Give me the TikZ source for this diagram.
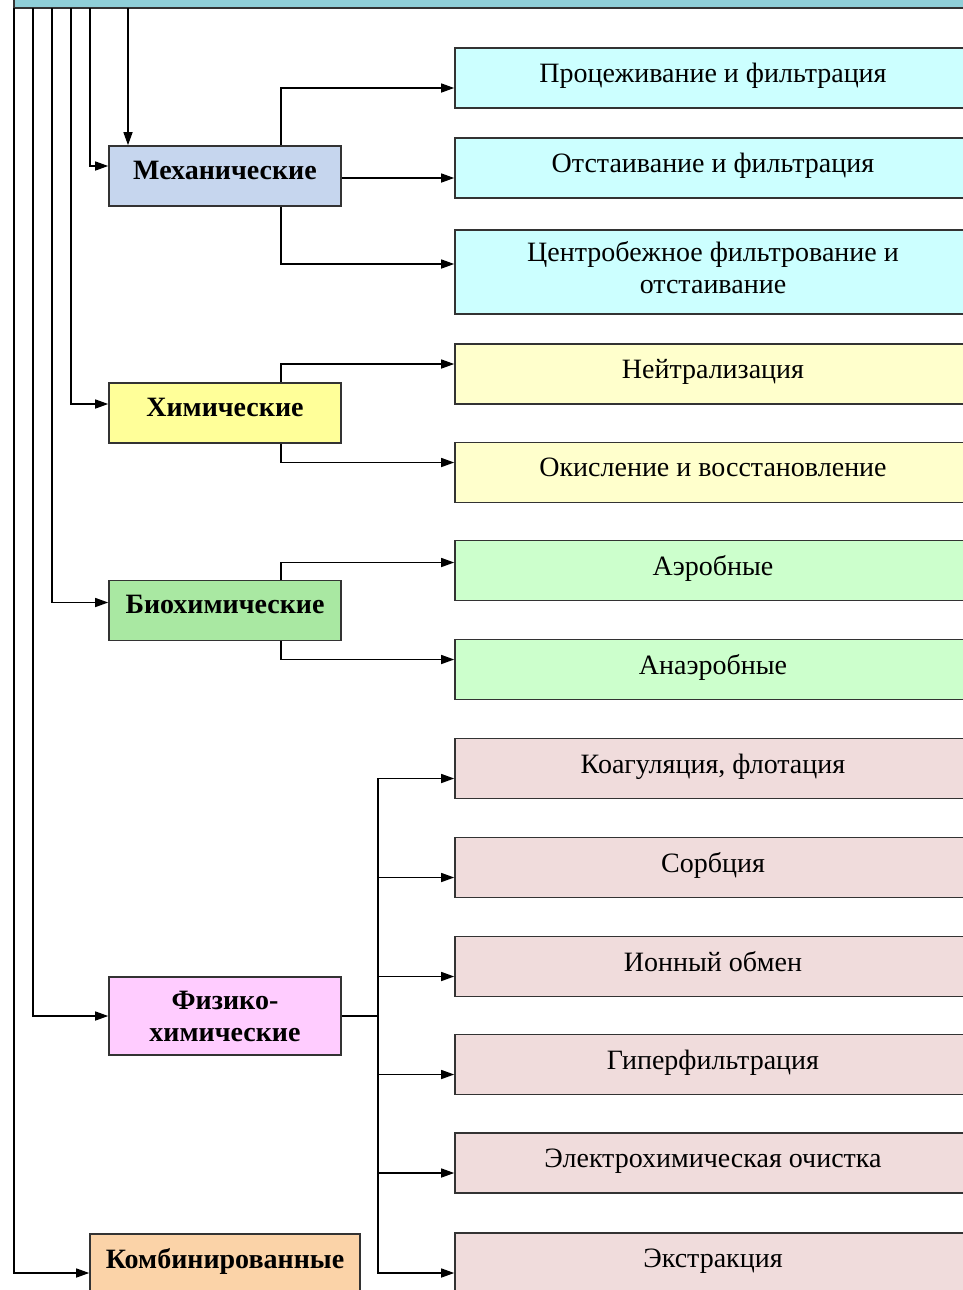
\documentclass[tikz,border=0pt]{standalone}
\usepackage{fontspec}
\setmainfont{Liberation Serif}
\usetikzlibrary{arrows.meta}

\definecolor{topcol}{HTML}{8FCFD8}
\definecolor{mechcol}{HTML}{C6D6EE}
\definecolor{mechitem}{HTML}{CCFFFF}
\definecolor{chemcol}{HTML}{FFFF99}
\definecolor{chemitem}{HTML}{FFFFCC}
\definecolor{biocol}{HTML}{A9E8A2}
\definecolor{bioitem}{HTML}{CCFFCC}
\definecolor{physcol}{HTML}{FFCCFF}
\definecolor{physitem}{HTML}{F0DCDC}
\definecolor{combcol}{HTML}{FBD3A8}

\tikzset{
  grp/.style = {draw=black!80, line width=0.8pt, minimum width=116pt,
    minimum height=30pt, align=center, inner sep=2pt, text depth=6pt,
    font=\bfseries\fontsize{14}{16}\selectfont},
  item/.style = {draw=black!80, line width=0.8pt, minimum width=258pt,
    minimum height=30pt, align=center, text depth=5pt,
    font=\fontsize{14}{16}\selectfont},
  arr/.style = {-{Triangle[length=6.5pt,width=4.5pt]}, line width=0.7pt}
}

\begin{document}
\begin{tikzpicture}[x=0.5pt, y=-0.5pt]
	
	\useasboundingbox (0,0) rectangle (963,1290);
	\clip (0,0) rectangle (963,1290);
	
	\node[draw=black!80, line width=0.8pt, fill=topcol, minimum width=493pt,
	  minimum height=30pt] (top) at (507,-22) {};
	
	% groups
	\node[grp, fill=mechcol] (mech) at (225,176) {Механические};
	\node[grp, fill=chemcol] (chem) at (225,413) {Химические};
	\node[grp, fill=biocol] (bio) at (225,610.5) {Биохимические};
	\node[grp, fill=physcol, minimum height=39pt, text depth=0pt] (phys) at (225,1016) {Физико-\\химические};
	\node[grp, fill=combcol, minimum width=135pt] (comb) at (225,1264) {Комбинированные};
	
	% methods
	\node[item, fill=mechitem] (i1) at (713,78) {Процеживание и фильтрация};
	\node[item, fill=mechitem] (i2) at (713,168) {Отстаивание и фильтрация};
	\node[item, fill=mechitem, minimum height=42pt] (i3) at (713,272) {Центробежное фильтрование и\\отстаивание};
	\node[item, fill=chemitem] (i4) at (713,374) {Нейтрализация};
	\node[item, fill=chemitem] (i5) at (713,472.5) {Окисление и восстановление};
	\node[item, fill=bioitem] (i6) at (713,570.5) {Аэробные};
	\node[item, fill=bioitem] (i7) at (713,669.5) {Анаэробные};
	\node[item, fill=physitem] (i8) at (713,768.5) {Коагуляция, флотация};
	\node[item, fill=physitem] (i9) at (713,867.5) {Сорбция};
	\node[item, fill=physitem] (i10) at (713,966.5) {Ионный обмен};
	\node[item, fill=physitem] (i11) at (713,1064.5) {Гиперфильтрация};
	\node[item, fill=physitem] (i12) at (713,1163) {Электрохимическая очистка};
	\node[item, fill=physitem] (i13) at (713,1263) {Экстракция};
	
	% lines from the top box
	\coordinate (b1) at (14,8);
	\coordinate (b2) at (33,8);
	\coordinate (b3) at (52,8);
	\coordinate (b4) at (71,8);
	\coordinate (b5) at (90,8);
	\coordinate (b6) at (128,8);
	
	\draw[arr] (b6) -- (b6 |- mech.north);
	\draw[arr] (b5) |- ([yshift=5pt]mech.west);
	\draw[arr] (b4) |- ([yshift=4.5pt]chem.west);
	\draw[arr] (b3) |- ([yshift=4pt]bio.west);
	\draw[arr] (b2) |- (phys.west);
	\draw[arr] (b1) |- ([yshift=-4.5pt]comb.west);
	
	% mechanical
	\draw[arr] ([xshift=28pt]mech.north) |- ([yshift=-5pt]i1.west);
	\draw[arr] ([yshift=-1pt]mech.east) -- ([yshift=-1pt]mech.east -| i2.west);
	\draw[arr] ([xshift=28pt]mech.south) |- ([yshift=4pt]i3.west);
	
	% chemical
	\draw[arr] ([xshift=28pt]chem.north) |- ([yshift=5pt]i4.west);
	\draw[arr] ([xshift=28pt]chem.south) |- ([yshift=5pt]i5.west);
	
	% biochemical
	\draw[arr] ([xshift=28pt]bio.north) |- ([yshift=4pt]i6.west);
	\draw[arr] ([xshift=28pt]bio.south) |- ([yshift=5pt]i7.west);
	
	% physico-chemical
	\coordinate (fork) at (378,1016);
	\draw[line width=0.7pt] (phys.east) -- (fork);
	\draw[arr] (fork) |- ([yshift=-5pt]i8.west);
	\draw[arr] (fork) |- ([yshift=-5pt]i9.west);
	\draw[arr] (fork) |- ([yshift=-5pt]i10.west);
	\draw[arr] (fork) |- ([yshift=-5pt]i11.west);
	\draw[arr] (fork) |- ([yshift=-5pt]i12.west);
	\draw[arr] (fork) |- ([yshift=-5pt]i13.west);
	
\end{tikzpicture}
\end{document}
